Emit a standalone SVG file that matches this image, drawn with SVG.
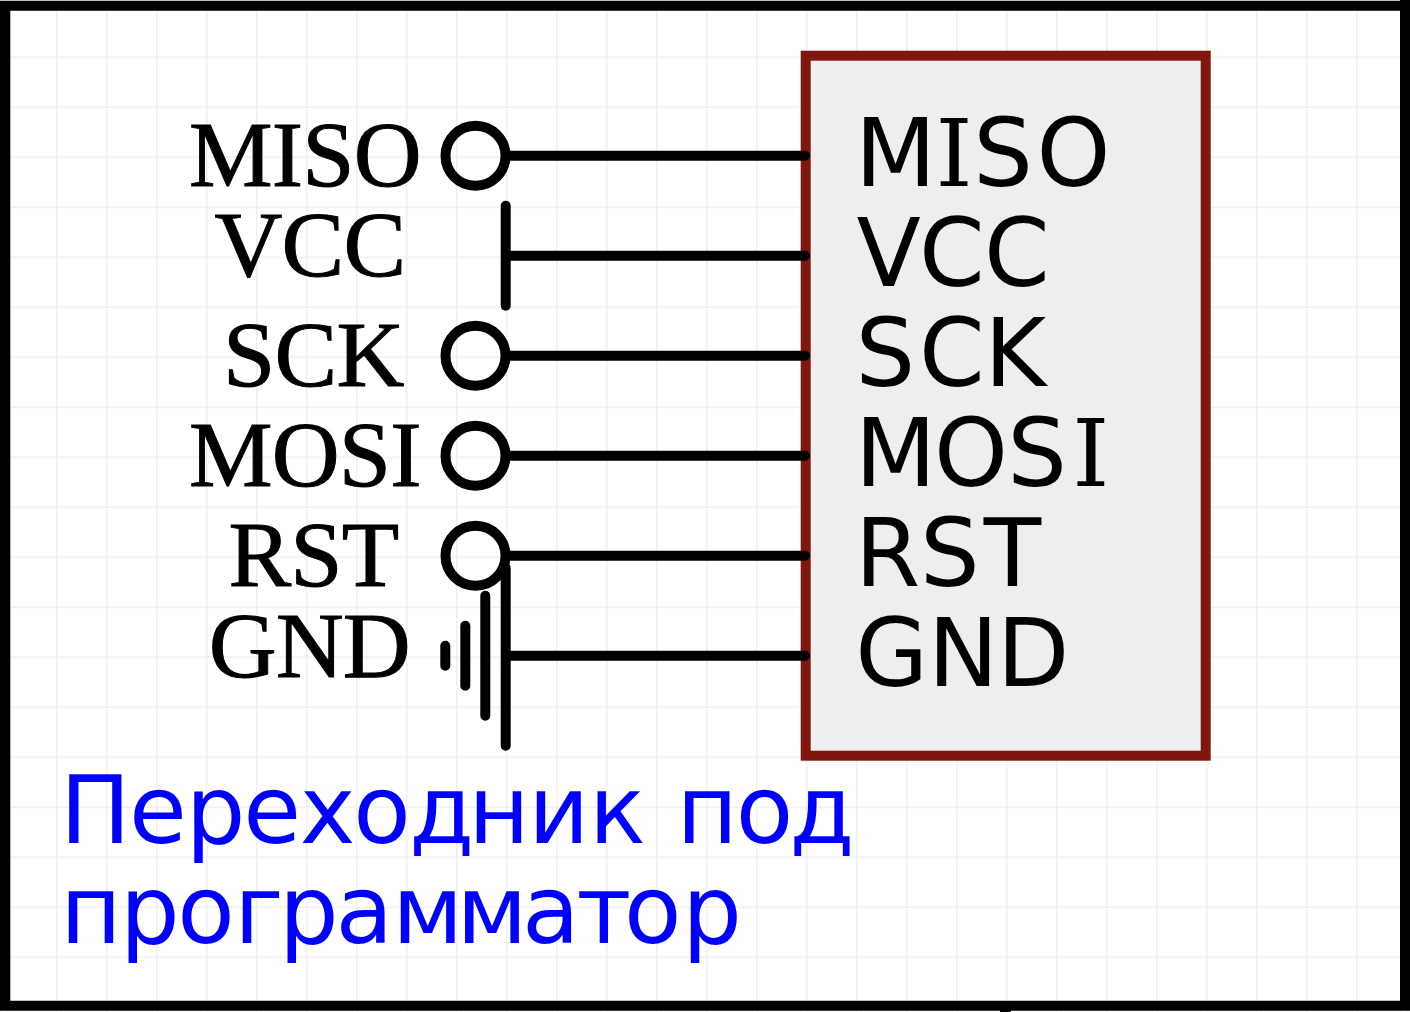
<svg xmlns="http://www.w3.org/2000/svg" width="1410" height="1012" viewBox="0 0 1410 1012">
<defs>
<pattern id="grid" x="6" y="6.500" width="50" height="50" patternUnits="userSpaceOnUse"><rect x="0" y="0" width="1.400" height="50" fill="#eee"/><rect x="0" y="0" width="50" height="1.400" fill="#eee"/></pattern>
</defs>
<style>
.w{fill:none;stroke:#000;stroke-width:10;stroke-linecap:round}
.pin{fill:none;stroke:#000;stroke-width:10}
.l{font-family:"Liberation Serif",serif;font-size:94px;letter-spacing:-.8px;fill:#000;stroke:#000;stroke-width:1}
.r{font-family:"DejaVu Sans",sans-serif;font-size:94px;fill:#000}
.t{font-family:"DejaVu Sans",sans-serif;font-size:94px;fill:#00f}
.i{font-family:"DejaVu Serif",serif}
</style>
<rect width="1410" height="1012" fill="#fff"/>
<rect x="0" y="0" width="1410" height="1012" fill="url(#grid)"/>
<path id="frame" d="M0 .7H1400V0H1410V1010.7H1010.7V1012H1000V1010.7H0ZM10.300 10.700V1000.700H1400V10.700Z" fill="#000" fill-rule="evenodd"/>
<g id="module">
<rect x="805.700" y="55.700" width="400" height="700" fill="#eee" stroke="#7f170e" stroke-width="10"/>
</g>
<g id="connectors">
<path class="w" d="M506 155.700H805M506 255.700H805M506 355.700H805M506 455.700H805M506 555.700H805M506 655.700H805"/>
</g>
<g id="module-labels">
<text class="r" y="186"><tspan x="855.100">M</tspan><tspan class="i" x="935.500">I</tspan><tspan x="973.300 1036.600">SO</tspan></text>
<text class="r" y="285.700" x="856.400 919 984">VCC</text>
<text class="r" y="385.700" x="855.500 919 984.600">SCK</text>
<text class="r" y="486"><tspan x="855.100 934 1007.300">MOS</tspan><tspan class="i" x="1072.300">I</tspan></text>
<text class="r" y="585.700" x="855.100 920 983.800">RST</text>
<text class="r" y="685.700" x="855.200 928 997">GND</text>
</g>
<g id="pin-miso"><text class="l" x="189" y="186.200">MISO</text><circle class="pin" cx="475.500" cy="155.700" r="30"/></g>
<g id="pin-vcc"><text class="l" x="214.500" y="276.200">VCC</text><path class="w" d="M505.700 205.700V305.700"/></g>
<g id="pin-sck"><text class="l" x="223" y="386.200">SCK</text><circle class="pin" cx="475.500" cy="355.700" r="30"/></g>
<g id="pin-mosi"><text class="l" x="189" y="486.200">MOSI</text><circle class="pin" cx="475.500" cy="455.700" r="30"/></g>
<g id="pin-rst"><text class="l" x="228.400" y="586.200">RST</text><circle class="pin" cx="475.500" cy="555.700" r="30"/></g>
<g id="pin-gnd"><text class="l" x="208.700" y="676.500">GND</text><path class="w" d="M505.700 568V745.700M485.300 595.700V715.700M465.300 625.700V685.700M445.300 645.700V665.700"/></g>
<g id="title">
<text class="t" y="843" x="60 129 185.700 243.300 299.800 353.300 409.200 468.300 528.300 589 650 676.600 735.700 789.500">Переходник под</text>
<text class="t" y="942.700" x="60.300 120 177.300 234.300 279 335.600 392.300 456.600 521.900 576.600 624 682.300">программатор</text>
</g>
</svg>
